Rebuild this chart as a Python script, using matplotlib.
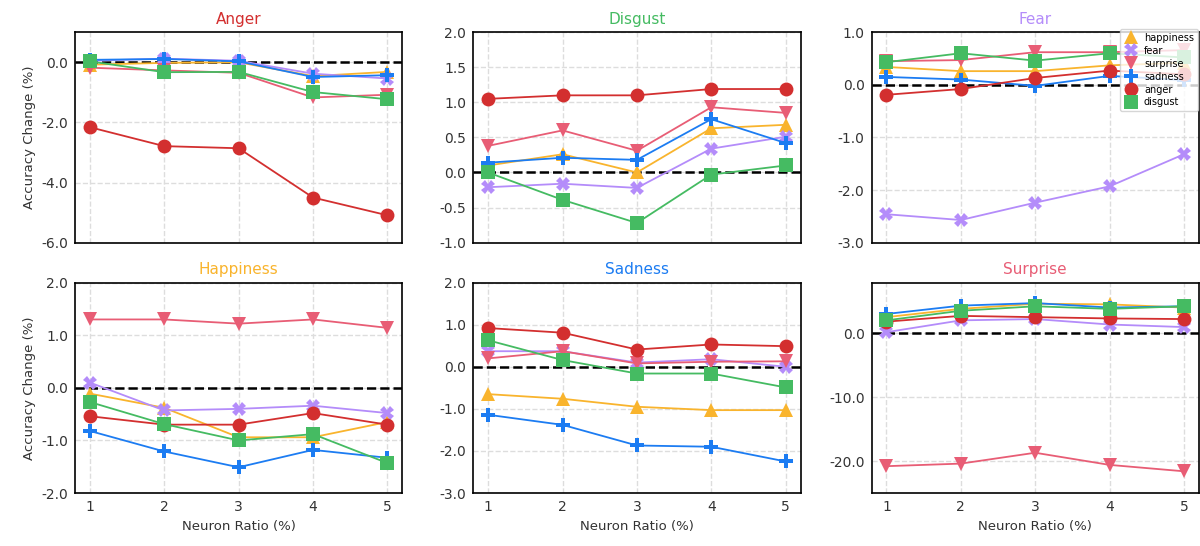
import matplotlib
matplotlib.use("Agg")
import matplotlib.pyplot as plt
from matplotlib.lines import Line2D
from matplotlib.ticker import FormatStrFormatter, MultipleLocator

ratios = [1, 2, 3, 4, 5]

# ---- data: accuracy change (%) per suppressed emotion panel ----
anger_panel = {
    "happiness": [-0.08, -0.02, 0.0, -0.46, -0.32],
    "fear":      [0.05, 0.12, 0.05, -0.38, -0.54],
    "surprise":  [-0.18, -0.27, -0.35, -1.17, -1.08],
    "sadness":   [0.08, 0.11, 0.03, -0.49, -0.43],
    "anger":     [-2.16, -2.79, -2.86, -4.50, -5.09],
    "disgust":   [0.03, -0.33, -0.32, -0.99, -1.23],
}
disgust_panel = {
    "happiness": [0.10, 0.26, 0.0, 0.63, 0.68],
    "fear":      [-0.21, -0.16, -0.22, 0.34, 0.51],
    "surprise":  [0.38, 0.60, 0.31, 0.93, 0.85],
    "sadness":   [0.14, 0.21, 0.18, 0.76, 0.42],
    "anger":     [1.05, 1.10, 1.10, 1.19, 1.19],
    "disgust":   [0.0, -0.39, -0.72, -0.03, 0.10],
}
fear_panel = {
    "happiness": [0.34, 0.26, 0.26, 0.37, 0.42],
    "fear":      [-2.46, -2.57, -2.24, -1.93, -1.32],
    "surprise":  [0.45, 0.47, 0.62, 0.62, 0.66],
    "sadness":   [0.15, 0.10, -0.02, 0.17, 0.09],
    "anger":     [-0.19, -0.08, 0.13, 0.27, 0.20],
    "disgust":   [0.43, 0.60, 0.46, 0.60, 0.52],
}
happiness_panel = {
    "happiness": [-0.11, -0.38, -0.94, -0.94, -0.65],
    "fear":      [0.10, -0.43, -0.40, -0.34, -0.48],
    "surprise":  [1.30, 1.30, 1.22, 1.30, 1.14],
    "sadness":   [-0.82, -1.21, -1.51, -1.18, -1.33],
    "anger":     [-0.54, -0.70, -0.70, -0.48, -0.70],
    "disgust":   [-0.27, -0.69, -1.00, -0.88, -1.43],
}
sadness_panel = {
    "happiness": [-0.65, -0.76, -0.95, -1.03, -1.03],
    "fear":      [0.37, 0.37, 0.10, 0.18, 0.0],
    "surprise":  [0.20, 0.37, 0.08, 0.12, 0.13],
    "sadness":   [-1.14, -1.38, -1.87, -1.90, -2.25],
    "anger":     [0.92, 0.81, 0.41, 0.53, 0.49],
    "disgust":   [0.63, 0.16, -0.16, -0.16, -0.49],
}
surprise_panel = {
    "happiness": [2.5, 3.8, 4.6, 4.5, 4.0],
    "fear":      [0.15, 2.0, 2.2, 1.35, 0.95],
    "surprise":  [-20.8, -20.4, -18.7, -20.6, -21.6],
    "sadness":   [3.0, 4.3, 4.7, 4.0, 4.2],
    "anger":     [1.8, 2.7, 2.5, 2.3, 2.2],
    "disgust":   [2.0, 3.5, 4.2, 3.8, 4.2],
}

EMO = {
    "happiness": ("#F9B42D", "^"),
    "fear":      ("#B48CFA", "X"),
    "surprise":  ("#E85D75", "v"),
    "sadness":   ("#1C7CF2", "P"),
    "anger":     ("#D32F2F", "o"),
    "disgust":   ("#45BB62", "s"),
}
ORDER = ["happiness", "fear", "surprise", "sadness", "anger", "disgust"]

panels = [
    ("Anger",     "anger",     anger_panel,     (-6, 1),     2.0),
    ("Disgust",   "disgust",   disgust_panel,   (-1, 2),     0.5),
    ("Fear",      "fear",      fear_panel,      (-3, 1),     1.0),
    ("Happiness", "happiness", happiness_panel, (-2, 2),     1.0),
    ("Sadness",   "sadness",   sadness_panel,   (-3, 2),     1.0),
    ("Surprise",  "surprise",  surprise_panel,  (-25, 7.9),  10.0),
]

fig, axes = plt.subplots(2, 3, figsize=(12, 5.46), dpi=100, sharex=True)
fig.subplots_adjust(left=0.0625, right=0.999, top=0.941, bottom=0.097,
                    wspace=0.217, hspace=0.19)

for i, (ax, (title, key, vals, ylim, step)) in enumerate(zip(axes.flat, panels)):
    for emo in ORDER:
        color, mark = EMO[emo]
        ax.plot(ratios, vals[emo], marker=mark, color=color, linewidth=1.3,
                markersize=10, markeredgewidth=0, label=emo)
    ax.axhline(0, color="black", linestyle="--", linewidth=1.8, zorder=1.5)
    ax.set_ylim(*ylim)
    ax.yaxis.set_major_locator(MultipleLocator(step))
    ax.yaxis.set_major_formatter(FormatStrFormatter("%.1f"))
    ax.set_xticks(ratios)
    ax.grid(True, linestyle="--", color="#dddddd", linewidth=1.0)
    ax.set_axisbelow(True)
    ax.set_title(title, color=EMO[key][0], fontsize=11)
    ax.tick_params(length=0, labelsize=10, labelcolor="#333333", pad=5)
    for sp in ax.spines.values():
        sp.set_color("black")
        sp.set_linewidth(1.2)
    if i % 3 == 0:
        ax.set_ylabel("Accuracy Change (%)", fontsize=9.5, color="#333333")
    if i >= 3:
        ax.set_xlabel("Neuron Ratio (%)", fontsize=9.5, color="#333333")

# marker-only legend handles
handles = [Line2D([], [], linestyle="none", marker=EMO[e][1], color=EMO[e][0],
                  markersize=10, markeredgewidth=0, label=e) for e in ORDER]
axes[0, 2].legend(handles=handles, loc="upper right", fontsize=7,
                  borderaxespad=0.1, handletextpad=0.5, labelspacing=0.3,
                  framealpha=0.8, handlelength=1.6,
                  bbox_to_anchor=(1.0, 1.02))

fig.savefig("out.png", dpi=100)
